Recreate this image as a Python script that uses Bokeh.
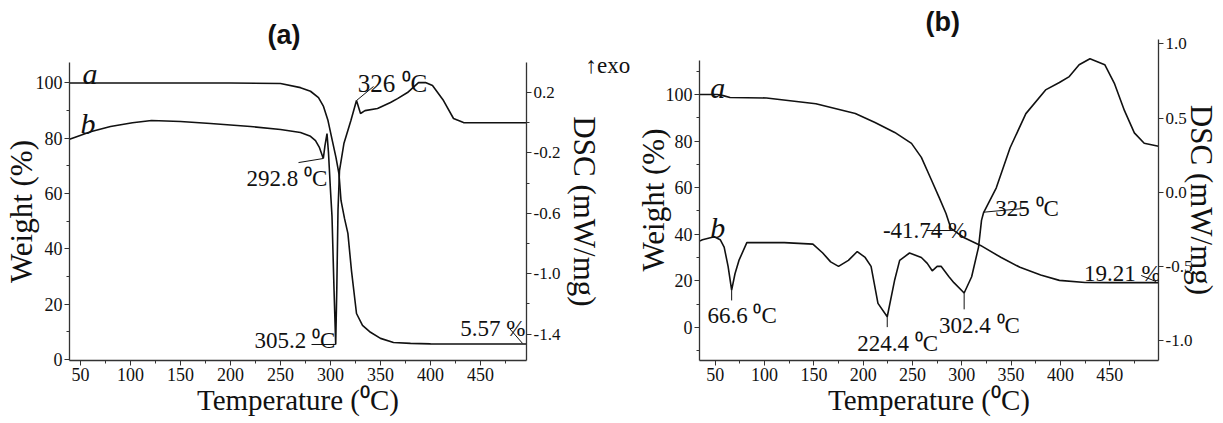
from bokeh.plotting import figure
from bokeh.models import (Range1d, LinearAxis, FixedTicker, SingleIntervalTicker,
                          NumeralTickFormatter, Label, Title)
from bokeh.layouts import row
from bokeh.embed import file_html
from bokeh.resources import INLINE

SERIF = "Liberation Serif"
SANS = "Liberation Sans"

# ---------------- Panel (a) data ----------------
a_tg_temp = [39, 100, 200, 250, 270, 280, 288, 293, 297.5, 301, 305.5, 308.5, 310.5,
             314, 317.4, 321, 326, 332, 340, 350, 363, 380, 400, 450, 496]
a_tg_weight = [100, 100, 100, 99.8, 98.3, 97, 94.7, 91.5, 86.4, 80.5, 73, 67, 57.5,
               51, 45.6, 32, 16.6, 12.3, 9.8, 7.6, 6.1, 5.8, 5.6, 5.57, 5.57]

a_dsc_temp = [39, 44, 60, 80, 102, 121, 150, 180, 220, 250, 270, 280, 285, 289, 292.8,
              294.5, 296.5, 298, 300, 301.5, 303.5, 305.2, 306.3, 307.5, 309, 313.4,
              320.4, 326, 330, 334.5, 347, 360, 367, 377, 388, 395, 402, 413, 423,
              433, 450, 496]
a_dsc_value = [-0.11, -0.098, -0.06, -0.025, 0.0, 0.015, 0.008, -0.005, -0.025, -0.045,
               -0.065, -0.09, -0.118, -0.165, -0.237, -0.15, -0.072, -0.2, -0.45, -0.62,
               -1.1, -1.469, -1.1, -0.58, -0.317, -0.138, 0.015, 0.147, 0.061, 0.08,
               0.094, 0.134, 0.16, 0.2, 0.266, 0.266, 0.246, 0.147, 0.028, 0.001, 0.0, 0.0]

a_right_ticks = [0.2, -0.2, -0.6, -1.0, -1.4]
a_right_minor = [0.0, -0.4, -0.8, -1.2]

# ---------------- Panel (b) data ----------------
b_tg_temp = [34, 52, 58, 65, 102, 152, 192, 212, 232, 249, 259, 269, 277, 284, 289,
             302, 319, 340, 359, 380, 399, 425, 450, 499.5]
b_tg_weight = [100, 100, 99.5, 98.7, 98.5, 96, 91.8, 88, 83.7, 79, 73, 63.5, 55.8, 48.9,
               42.5, 38.6, 35.2, 30, 25.8, 22.5, 20.2, 19.3, 19.21, 19.21]

b_dsc_temp = [34, 37, 49, 55, 59, 63, 66.6, 70, 74, 82, 95, 120, 149, 159, 167, 175, 185,
              194, 202, 208, 215, 224.4, 232, 237, 247, 259, 265, 270, 275, 279, 287,
              292, 302.4, 310, 317, 320, 322, 325, 335, 349, 365, 385, 399, 409, 419,
              430, 445, 455, 465, 475, 485, 499.5]
b_dsc_value = [-0.33, -0.32, -0.30, -0.32, -0.37, -0.5, -0.66, -0.55, -0.46, -0.34, -0.34,
               -0.34, -0.35, -0.41, -0.47, -0.5, -0.46, -0.40, -0.44, -0.5, -0.75, -0.84,
               -0.59, -0.46, -0.41, -0.44, -0.48, -0.53, -0.5, -0.50, -0.57, -0.61, -0.68,
               -0.57, -0.37, -0.19, -0.14, -0.1, 0.03, 0.30, 0.53, 0.69, 0.74, 0.78, 0.86,
               0.90, 0.86, 0.73, 0.55, 0.40, 0.33, 0.31]

b_right_ticks = [1.0, 0.5, 0.0, -0.5, -1.0]

X_LABEL = "Temperature (\u2070C)"
Y_LABEL = "Weight (%)"
Y2_LABEL = "DSC (mW/mg)"

LINE = "#111111"
AX = "#333333"


def style_axis(ax, tick_size="18px", label_size="30px", label_standoff=2):
    ax.major_label_text_font = SERIF
    ax.major_label_text_font_size = tick_size
    ax.major_label_text_font_style = "normal"
    ax.major_label_text_color = "#111111"
    ax.axis_label_text_font = SERIF
    ax.axis_label_text_font_style = "normal"
    ax.axis_label_text_font_size = label_size
    ax.axis_label_text_color = "#111111"
    ax.major_tick_in = 0
    ax.major_tick_out = 5
    ax.minor_tick_in = 0
    ax.minor_tick_out = 3
    ax.axis_line_color = AX
    ax.axis_line_width = 1.3
    ax.major_tick_line_color = AX
    ax.minor_tick_line_color = AX
    ax.major_label_standoff = 2
    ax.axis_label_standoff = label_standoff


def make_panel(width, x_rng, y_rng, y2_rng, borders, right_ticker, standoffs):
    left, right, top, bottom = borders
    p = figure(width=width, height=423, x_range=Range1d(*x_rng), y_range=Range1d(*y_rng),
               output_backend="svg", toolbar_location=None, frame_align=False,
               min_border_left=left, min_border_right=right,
               min_border_top=top, min_border_bottom=bottom)
    p.extra_y_ranges = {"dsc": Range1d(*y2_rng)}
    p.outline_line_color = None
    p.grid.visible = False
    p.background_fill_color = "white"
    p.border_fill_color = "white"

    p.xaxis.ticker = SingleIntervalTicker(interval=50, num_minor_ticks=2)
    p.xaxis.axis_label = X_LABEL
    style_axis(p.xaxis[0], label_size="29px", label_standoff=0)
    p.yaxis.ticker = SingleIntervalTicker(interval=20, num_minor_ticks=2)
    p.yaxis.axis_label = Y_LABEL
    style_axis(p.yaxis[0], label_size="31px", label_standoff=standoffs[0])

    ax2 = LinearAxis(y_range_name="dsc", axis_label=Y2_LABEL, ticker=right_ticker,
                     formatter=NumeralTickFormatter(format="0.0"))
    style_axis(ax2, tick_size="17px", label_size="31px", label_standoff=standoffs[1])
    p.add_layout(ax2, "right")
    return p


def add_text(p, x, y, text, size="23px", style="normal", rng=None):
    kw = {}
    if rng:
        kw["y_range_name"] = rng
    p.add_layout(Label(x=x, y=y, text=text, text_font=SERIF, text_font_size=size,
                       text_font_style=style, text_color="#111111",
                       text_baseline="alphabetic", **kw))


def style_title(t, text, offset, standoff):
    t.text = text
    t.align = "left"
    t.offset = offset
    t.standoff = standoff
    t.text_font = SANS
    t.text_font_style = "bold"
    t.text_font_size = "27px"
    t.text_color = "#111111"


# ---------------- Panel (a) ----------------
p1 = make_panel(632, (39, 496), (-0.4, 107.4), (-1.575, 0.399), (67, 106, 62, 63),
                FixedTicker(ticks=a_right_ticks, minor_ticks=a_right_minor), (-6, 4))
p1.line(a_tg_temp, a_tg_weight, line_color=LINE, line_width=1.6)
p1.line(a_dsc_temp, a_dsc_value, line_color=LINE, line_width=1.6, y_range_name="dsc")

# leader lines (a)
p1.line([326, 343], [0.147, 0.24], line_color=LINE, line_width=1, y_range_name="dsc")
p1.line([268, 292.8], [-0.264, -0.237], line_color=LINE, line_width=1, y_range_name="dsc")
p1.line([281, 305.2], [-1.469, -1.469], line_color=LINE, line_width=1, y_range_name="dsc")
p1.line([479, 492], [11.2, 5.8], line_color=LINE, line_width=1)

add_text(p1, 327.3, 0.26, "326 \u2070C", rng="dsc", size="25px")
add_text(p1, 216, -0.37, "292.8 \u2070C", rng="dsc")
add_text(p1, 224, -1.44, "305.2 \u2070C", rng="dsc")
add_text(p1, 429.7, 11.2, "5.57 %")
add_text(p1, 52, 103.4, "a", size="30px", style="italic")
add_text(p1, 50, 85.4, "b", size="30px", style="italic")

# exo marker (nearest to frame) and panel title (outermost)
p1.add_layout(Title(text="\u2191exo", align="left", offset=516, standoff=-30,
                    text_font=SERIF, text_font_style="normal", text_font_size="23px",
                    text_color="#111111"), "above")
style_title(p1.title, "(a)", 198, 26)

# ---------------- Panel (b) ----------------
p2 = make_panel(591, (34, 499.5), (-14.2, 123.6), (-1.135, 1.03), (60, 65, 39, 63),
                FixedTicker(ticks=b_right_ticks), (-8, -11))
p2.yaxis[0].bounds = (-14.2, 114.5)
p2.line(b_tg_temp, b_tg_weight, line_color=LINE, line_width=1.6)
p2.line(b_dsc_temp, b_dsc_value, line_color=LINE, line_width=1.6, y_range_name="dsc")

# leader lines (b)
p2.line([264, 289], [41.6, 41.6], line_color=LINE, line_width=1)
p2.line([322, 365], [-0.135, -0.108], line_color=LINE, line_width=1, y_range_name="dsc")
p2.line([66.6, 66.6], [-0.66, -0.73], line_color=LINE, line_width=1, y_range_name="dsc")
p2.line([224.4, 224.4], [-0.84, -0.91], line_color=LINE, line_width=1, y_range_name="dsc")
p2.line([302.4, 302.4], [-0.68, -0.79], line_color=LINE, line_width=1, y_range_name="dsc")
p2.line([482, 497], [22.3, 19.7], line_color=LINE, line_width=1)

add_text(p2, 220, 41.6, "-41.74 %")
add_text(p2, 334, -0.108, "325 \u2070C", rng="dsc")
add_text(p2, 42, -0.83, "66.6 \u2070C", rng="dsc")
add_text(p2, 194, -1.02, "224.4 \u2070C", rng="dsc")
add_text(p2, 277, -0.90, "302.4 \u2070C", rng="dsc")
add_text(p2, 424, 23.2, "19.21 %")
add_text(p2, 45, 103, "a", size="30px", style="italic")
add_text(p2, 45, 43, "b", size="30px", style="italic")

style_title(p2.title, "(b)", 226, 6)

layout = row(p1, p2)
open("out.html", "w").write(file_html(layout, INLINE))
